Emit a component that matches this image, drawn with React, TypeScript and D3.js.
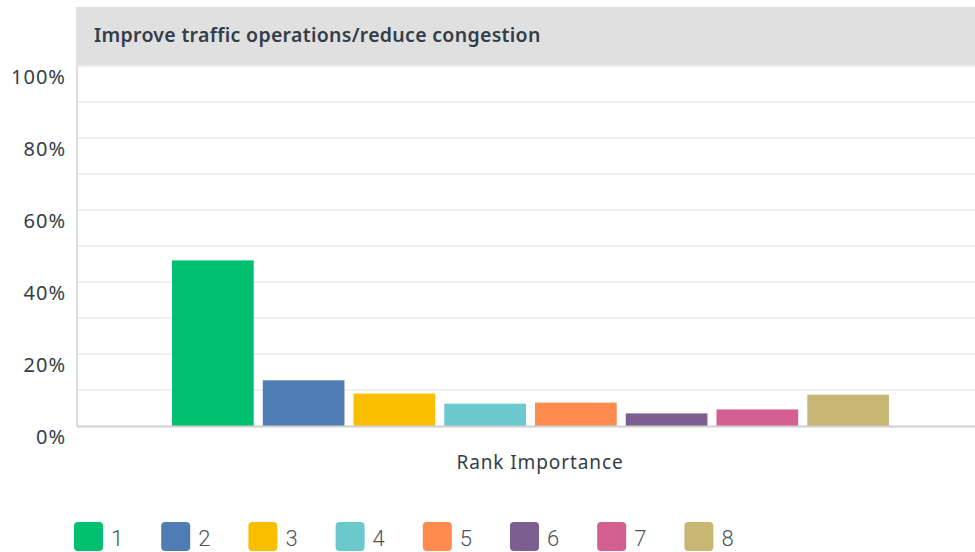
import React, { useEffect, useRef } from 'react';
import * as d3 from 'd3';

const title = 'Improve traffic operations/reduce congestion';
const category = 'Rank Importance';
const ranks = ['1', '2', '3', '4', '5', '6', '7', '8'];
const shares = [46.0, 12.7, 9.0, 6.2, 6.5, 3.5, 4.6, 8.7];
const colors = ['#00bf6f', '#507cb6', '#f9be00', '#6bc8cd', '#ff8b4f', '#7d5e90', '#d25f90', '#c8b675'];
const yTicks = [0, 20, 40, 60, 80, 100];
const gridTicks = [10, 20, 30, 40, 50, 60, 70, 80, 90, 100];

const W = 975;
const H = 552;

const App: React.FC = () => {
  const svgRef = useRef<SVGSVGElement>(null);

  useEffect(() => {
    if (!svgRef.current) return;
    const svg = d3.select(svgRef.current);
    svg.selectAll('*').remove();

    const left = 77, right = 975, top = 66, bottom = 426;
    const font = '"Noto Sans", sans-serif';
    const textColor = '#333e48';

    const y = d3.scaleLinear().domain([0, 100]).range([bottom, top]);
    const x = d3.scaleBand<string>()
      .domain(ranks)
      .range([167.5, 893.5])
      .paddingInner(0.1)
      .paddingOuter(0.05);

    // header band
    svg.append('rect')
      .attr('x', 76).attr('y', 7)
      .attr('width', right - 76).attr('height', top - 7)
      .attr('fill', '#e0e0e0');
    svg.append('text')
      .attr('x', 94).attr('y', 42)
      .attr('font-family', font)
      .attr('font-size', 19.5)
      .attr('font-weight', 600)
      .attr('letter-spacing', 0.3)
      .attr('fill', textColor)
      .text(title);

    // gridlines
    svg.append('g').selectAll('line')
      .data(gridTicks)
      .enter().append('line')
      .attr('x1', left).attr('x2', right)
      .attr('y1', d => y(d)).attr('y2', d => y(d))
      .attr('stroke', '#ececec').attr('stroke-width', 1.5);

    // y labels
    svg.append('g').selectAll('text')
      .data(yTicks)
      .enter().append('text')
      .attr('x', 66)
      .attr('y', d => y(d) + 18)
      .attr('text-anchor', 'end')
      .attr('font-family', font)
      .attr('font-size', 20)
      .attr('letter-spacing', 1)
      .attr('fill', textColor)
      .text(d => `${d}%`);

    // bars
    svg.append('g').selectAll('rect')
      .data(shares)
      .enter().append('rect')
      .attr('x', (d, i) => x(ranks[i])!)
      .attr('width', x.bandwidth())
      .attr('y', d => y(d))
      .attr('height', d => bottom - y(d))
      .attr('fill', (d, i) => colors[i]);

    // axes lines
    svg.append('line')
      .attr('x1', left).attr('x2', left)
      .attr('y1', top).attr('y2', bottom)
      .attr('stroke', '#d0d0d0').attr('stroke-width', 1.5);
    svg.append('line')
      .attr('x1', left).attr('x2', right)
      .attr('y1', bottom + 0.5).attr('y2', bottom + 0.5)
      .attr('stroke', '#cfcfcf').attr('stroke-width', 2);

    svg.append('text')
      .attr('x', 540).attr('y', 469)
      .attr('text-anchor', 'middle')
      .attr('font-family', font)
      .attr('font-size', 19)
      .attr('letter-spacing', 0.9)
      .attr('fill', textColor)
      .text(category);

    // legend
    const legend = svg.append('g').selectAll('g')
      .data(ranks)
      .enter().append('g')
      .attr('transform', (d, i) => `translate(${74 + i * 87.2},522)`);
    legend.append('rect')
      .attr('width', 29).attr('height', 29)
      .attr('rx', 4)
      .attr('fill', (d, i) => colors[i]);
    legend.append('text')
      .attr('x', 37).attr('y', 24)
      .attr('font-family', 'Roboto, sans-serif')
      .attr('font-weight', 300)
      .attr('font-size', 22)
      .attr('fill', '#4a525a')
      .text(d => d);
  }, []);

  return (
    <svg ref={svgRef} width={W} height={H}
      style={{ position: 'absolute', left: 0, top: 0, background: '#fff' }} />
  );
};

export default App;
